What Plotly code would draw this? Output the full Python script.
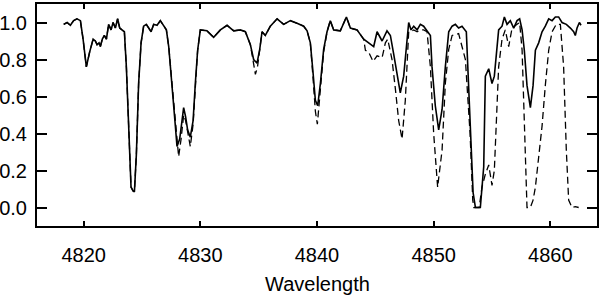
import plotly.graph_objects as go

# observed spectrum (solid)
wl_obs = [
    4818.29, 4818.58, 4818.86, 4819.14, 4819.43, 4819.72, 4819.95, 4820.23, 4820.51, 4820.81,
    4821.00, 4821.15, 4821.32, 4821.43, 4821.60, 4821.77, 4821.95, 4822.14, 4822.35, 4822.52,
    4822.72, 4822.91, 4823.09, 4823.29, 4823.49, 4823.66, 4823.86, 4824.06, 4824.23, 4824.35,
    4824.52, 4824.71, 4824.92, 4825.14, 4825.37, 4825.57, 4825.78, 4826.00, 4826.29, 4826.57,
    4826.86, 4827.09, 4827.29, 4827.58, 4827.86, 4828.00, 4828.23, 4828.43, 4828.57, 4828.74,
    4828.91, 4829.14, 4829.38, 4829.57, 4829.77, 4830.00, 4830.57, 4831.14, 4831.72, 4832.29,
    4832.86, 4833.43, 4833.86, 4834.29, 4834.57, 4834.86, 4835.09, 4835.29, 4835.57, 4836.00,
    4836.58, 4837.14, 4837.72, 4838.29, 4838.86, 4839.15, 4839.43, 4839.66, 4839.86, 4840.06,
    4840.29, 4840.57, 4840.86, 4841.14, 4841.43, 4842.00, 4842.52, 4842.86, 4843.43, 4844.00,
    4844.43, 4844.86, 4845.15, 4845.58, 4846.00, 4846.29, 4846.57, 4846.86, 4847.14, 4847.43,
    4847.66, 4847.86, 4848.06, 4848.29, 4848.58, 4848.86, 4849.14, 4849.43, 4849.72, 4849.86,
    4850.14, 4850.43, 4850.72, 4851.00, 4851.29, 4851.58, 4851.86, 4852.14, 4852.43, 4852.80,
    4853.00, 4853.20, 4853.38, 4853.58, 4854.00, 4854.29, 4854.43, 4854.72, 4855.00, 4855.20,
    4855.37, 4855.57, 4855.86, 4856.06, 4856.29, 4856.57, 4856.86, 4857.15, 4857.37, 4857.58,
    4857.77, 4858.00, 4858.29, 4858.52, 4858.72, 4859.00, 4859.29, 4859.57, 4859.86, 4860.15,
    4860.43, 4860.71, 4861.00, 4861.37, 4861.72, 4862.00, 4862.14, 4862.29, 4862.49, 4862.63,
]
flux_obs = [
    0.99, 1.00, 0.985, 1.01, 1.02, 1.01, 0.91, 0.76, 0.84, 0.91,
    0.90, 0.88, 0.89, 0.87, 0.91, 0.93, 0.91, 0.99, 0.96, 1.00,
    0.97, 1.02, 0.97, 0.96, 0.95, 0.76, 0.40, 0.11, 0.09, 0.085,
    0.29, 0.67, 0.89, 0.98, 0.99, 0.97, 0.95, 0.99, 0.985, 1.01,
    0.98, 0.96, 0.87, 0.67, 0.44, 0.33, 0.37, 0.47, 0.54, 0.49,
    0.42, 0.38, 0.47, 0.67, 0.85, 0.96, 0.955, 0.92, 0.96, 0.985,
    0.955, 0.96, 0.95, 0.88, 0.80, 0.78, 0.855, 0.95, 0.93, 0.98,
    1.02, 0.99, 1.01, 0.996, 0.98, 0.955, 0.89, 0.73, 0.58, 0.55,
    0.67, 0.855, 0.95, 1.01, 0.96, 0.955, 1.03, 0.97, 0.96, 0.91,
    0.89, 0.87, 0.95, 0.90, 0.955, 0.93, 0.83, 0.71, 0.62, 0.71,
    0.855, 1.00, 0.96, 0.98, 0.96, 0.99, 0.98, 0.955, 0.93, 0.76,
    0.55, 0.42, 0.53, 0.76, 0.95, 0.98, 0.99, 0.97, 0.98, 0.95,
    0.67, 0.31, 0.08, 0.00, 0.00, 0.22, 0.71, 0.75, 0.67, 0.71,
    0.82, 0.96, 0.98, 1.03, 0.99, 1.01, 0.97, 1.01, 1.02, 0.96,
    0.85, 0.66, 0.54, 0.66, 0.85, 0.89, 0.95, 0.98, 1.02, 1.01,
    1.03, 1.03, 1.00, 0.99, 0.97, 0.95, 0.93, 0.97, 1.00, 0.985,
]

# model spectrum (dashed)
wl_model = [
    4818.29, 4818.58, 4818.86, 4819.14, 4819.43, 4819.72, 4819.95, 4820.23, 4820.51, 4820.81,
    4821.00, 4821.15, 4821.32, 4821.43, 4821.60, 4821.77, 4821.95, 4822.14, 4822.35, 4822.52,
    4822.72, 4822.91, 4823.09, 4823.29, 4823.49, 4823.66, 4823.86, 4824.06, 4824.23, 4824.35,
    4824.52, 4824.71, 4824.92, 4825.14, 4825.37, 4825.57, 4825.78, 4826.00, 4826.29, 4826.57,
    4826.86, 4827.09, 4827.29, 4827.58, 4827.86, 4828.14, 4828.35, 4828.57, 4828.74, 4828.91,
    4829.14, 4829.38, 4829.57, 4829.77, 4830.00, 4830.57, 4831.14, 4831.72, 4832.29, 4832.86,
    4833.43, 4833.86, 4834.29, 4834.57, 4834.72, 4834.90, 4835.09, 4835.29, 4835.57, 4836.00,
    4836.58, 4837.14, 4837.72, 4838.29, 4838.86, 4839.15, 4839.43, 4839.66, 4839.86, 4840.03,
    4840.29, 4840.57, 4840.86, 4841.14, 4841.43, 4842.00, 4842.52, 4842.86, 4843.43, 4844.00,
    4844.15, 4844.43, 4844.80, 4845.15, 4845.58, 4845.86, 4846.06, 4846.43, 4846.72, 4847.00,
    4847.29, 4847.57, 4847.86, 4848.06, 4848.29, 4848.58, 4848.86, 4849.14, 4849.43, 4849.72,
    4850.00, 4850.34, 4850.72, 4851.00, 4851.29, 4851.58, 4852.14, 4852.72, 4853.12, 4853.35,
    4853.45, 4853.90, 4854.14, 4854.43, 4854.72, 4855.00, 4855.20, 4855.37, 4855.57, 4855.86,
    4856.14, 4856.43, 4856.72, 4857.15, 4857.37, 4857.58, 4857.72, 4857.86, 4858.00, 4858.29,
    4858.52, 4858.72, 4859.00, 4859.29, 4859.57, 4859.86, 4860.15, 4860.51, 4860.86, 4861.14,
    4861.37, 4861.57, 4861.86, 4862.14, 4862.43,
]
flux_model = [
    0.99, 1.00, 0.985, 1.01, 1.02, 1.01, 0.91, 0.76, 0.84, 0.91,
    0.90, 0.88, 0.89, 0.87, 0.91, 0.93, 0.91, 0.99, 0.96, 1.00,
    0.97, 1.02, 0.97, 0.96, 0.95, 0.76, 0.40, 0.11, 0.09, 0.085,
    0.29, 0.67, 0.89, 0.98, 0.99, 0.97, 0.95, 0.99, 0.985, 1.01,
    0.98, 0.96, 0.87, 0.67, 0.44, 0.275, 0.37, 0.50, 0.47, 0.40,
    0.33, 0.45, 0.67, 0.85, 0.96, 0.955, 0.92, 0.96, 0.985, 0.955,
    0.96, 0.95, 0.88, 0.78, 0.72, 0.76, 0.855, 0.95, 0.93, 0.98,
    1.02, 0.99, 1.01, 0.996, 0.98, 0.955, 0.89, 0.70, 0.52, 0.45,
    0.62, 0.84, 0.95, 1.01, 0.96, 0.955, 1.03, 0.97, 0.96, 0.91,
    0.85, 0.84, 0.79, 0.82, 0.81, 0.89, 0.91, 0.80, 0.64, 0.47,
    0.37, 0.58, 0.95, 0.95, 0.96, 0.95, 0.96, 0.96, 0.95, 0.76,
    0.40, 0.11, 0.31, 0.67, 0.855, 0.93, 0.94, 0.80, 0.40, 0.04,
    0.00, 0.00, 0.11, 0.18, 0.23, 0.12, 0.20, 0.49, 0.76, 0.91,
    0.96, 0.87, 0.97, 0.99, 1.00, 0.85, 0.58, 0.22, 0.00, 0.00,
    0.04, 0.11, 0.26, 0.44, 0.66, 0.85, 0.95, 0.99, 0.99, 0.76,
    0.31, 0.04, 0.00, 0.005, 0.00,
]

FONT = "Liberation Sans, Arial, Helvetica, sans-serif"

fig = go.Figure()
fig.add_trace(go.Scatter(
    x=wl_model, y=flux_model, mode="lines",
    line=dict(color="black", width=1.3, dash="7px,4px"),
    showlegend=False,
))
fig.add_trace(go.Scatter(
    x=wl_obs, y=flux_obs, mode="lines",
    line=dict(color="black", width=1.6),
    showlegend=False,
))

fig.update_layout(
    width=600, height=296,
    margin=dict(l=37, r=3, t=4, b=70),
    paper_bgcolor="white", plot_bgcolor="white",
    font=dict(family=FONT, size=20, color="black"),
    xaxis=dict(
        range=[4816, 4864], tick0=4820, dtick=10,
        showline=True, linecolor="black", linewidth=2, mirror="allticks",
        ticks="inside", ticklen=5, tickwidth=1.5, tickcolor="black",
        showgrid=False, zeroline=False, automargin=False,
        ticklabelstandoff=10,
    ),
    yaxis=dict(
        range=[-0.1, 1.1], tick0=0, dtick=0.2, tickformat=".1f",
        showline=True, linecolor="black", linewidth=2, mirror="allticks",
        ticks="inside", ticklen=10, tickwidth=1.5, tickcolor="black",
        showgrid=False, zeroline=False, automargin=False,
        ticklabelstandoff=4,
    ),
    annotations=[dict(
        text="Wavelength", xref="paper", yref="paper", x=0.5, y=-0.26,
        xanchor="center", yanchor="middle", showarrow=False,
        font=dict(family=FONT, size=20, color="black"),
    )],
)

# page body has an 8px default margin; drop it so the figure sits at the corner
fig.write_html(
    "out.html",
    config={"displayModeBar": False},
    post_script="document.body.style.margin='0';",
)
